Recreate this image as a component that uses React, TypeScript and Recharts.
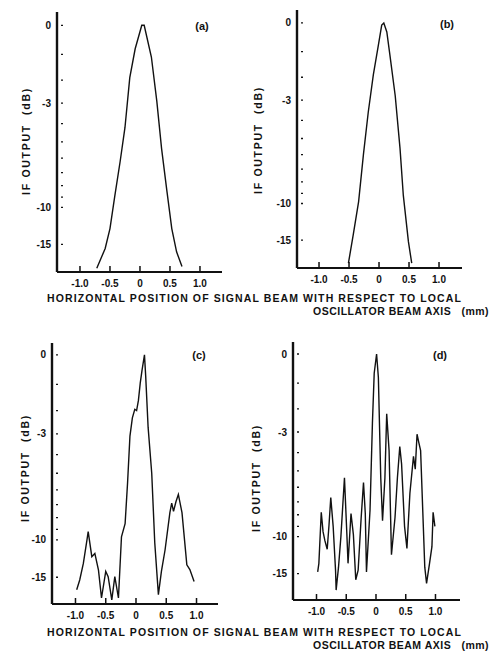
import React from 'react';
import { LineChart, Line, XAxis, YAxis, LabelList } from 'recharts';

// ---- tick definitions ----
const xTicks = [-1.0, -0.5, 0, 0.5, 1.0];
const xTickLabels = ['-1.0', '-0.5', '0', '0.5', '1.0'];
const yTickDb = [0, -1, -2, -3, -4, -5, -6, -7, -8, -9, -10, -15];
const yLabeledDb = [0, -3, -10, -15];

// ---- panel (a) ----
const aX = [-0.72, -0.58, -0.5, -0.42, -0.33, -0.25, -0.17, -0.08, 0.03, 0.07, 0.19, 0.28, 0.36, 0.45, 0.53, 0.61, 0.7];
const aDb = [-21.1, -15.8, -12.5, -8.9, -6.2, -4.2, -1.9, -0.8, 0, 0, -1.1, -2.9, -5.4, -8.5, -12.5, -16.5, -20.5];

// ---- panel (b) ----
const bX = [-0.51, -0.43, -0.34, -0.26, -0.18, -0.095, -0.01, 0.045, 0.08, 0.13, 0.18, 0.27, 0.35, 0.405, 0.49, 0.545];
const bDb = [-20.9, -14.1, -9.8, -6.0, -3.6, -1.9, -0.75, -0.07, 0, -0.3, -1.1, -2.8, -5.6, -9.2, -15.3, -20.9];

// ---- panel (c) ----
const cX = [-0.98, -0.93, -0.87, -0.81, -0.79, -0.73, -0.68, -0.62, -0.57, -0.5, -0.46, -0.4, -0.35, -0.29, -0.24, -0.18, -0.14, -0.1, -0.06, -0.02, 0.01, 0.04, 0.07, 0.1, 0.14, 0.16, 0.2, 0.26, 0.31, 0.37, 0.42, 0.48, 0.56, 0.59, 0.62, 0.66, 0.7, 0.76, 0.84, 0.89, 0.96];
const cDb = [-17.6, -15.5, -12.8, -10.0, -9.2, -11.9, -11.5, -13.8, -19.9, -14.0, -14.9, -20.5, -14.9, -19.9, -9.7, -8.5, -5.6, -3.1, -2.3, -1.95, -2.0, -1.6, -0.96, -0.5, 0, -0.7, -2.7, -5.0, -10.3, -18.9, -14.0, -11.1, -7.6, -6.9, -7.5, -6.8, -6.3, -7.6, -13.0, -13.7, -15.8];

// ---- panel (d) ----
const dX = [-0.98, -0.96, -0.92, -0.89, -0.86, -0.82, -0.79, -0.76, -0.72, -0.68, -0.67, -0.63, -0.59, -0.53, -0.49, -0.47, -0.42, -0.38, -0.34, -0.3, -0.25, -0.21, -0.18, -0.16, -0.1, -0.06, -0.03, 0.01, 0.04, 0.08, 0.11, 0.15, 0.18, 0.22, 0.26, 0.32, 0.36, 0.4, 0.43, 0.48, 0.52, 0.57, 0.63, 0.66, 0.69, 0.72, 0.75, 0.79, 0.82, 0.85, 0.9, 0.94, 0.96, 0.99];
const dDb = [-14.7, -13.3, -7.8, -9.5, -10.4, -11.4, -8.9, -6.7, -9.0, -14.4, -18.7, -13.9, -10.0, -5.4, -9.7, -13.3, -7.9, -9.8, -16.2, -14.4, -8.3, -5.7, -7.9, -14.7, -7.6, -2.6, -0.65, 0, -0.8, -5.4, -8.5, -5.4, -2.2, -3.9, -12.1, -8.2, -5.4, -3.7, -4.6, -9.0, -11.3, -6.4, -4.2, -4.9, -3.1, -3.5, -3.9, -8.2, -13.9, -17.0, -13.3, -11.1, -7.8, -9.0];

// ---- texts ----
const panelTags = ['(a)', '(b)', '(c)', '(d)'];
const yTitle = 'IF OUTPUT  (dB)';
const captionLine1 = 'HORIZONTAL POSITION OF SIGNAL BEAM WITH RESPECT TO LOCAL';
const captionLine2 = 'OSCILLATOR BEAM AXIS   (mm)';

// The vertical axis is linear in output amplitude, labelled in dB.
const toAmp = (db: number) => Math.pow(10, db / 20);
const yTickAmp = yTickDb.map(toAmp);

const FONT = '"Liberation Sans", Arial, sans-serif';
const INK = '#111111';

type Dom = [number, number];
type Layout = { left: number; top: number; w: number; h: number; xDomain: Dom; yDomain: Dom };

const layouts: Layout[] = [
  { left: 57, top: 12, w: 165, h: 260, xDomain: [-1.383, 1.367], yDomain: [0.074, 1.05] },
  { left: 297, top: 10, w: 165, h: 258, xDomain: [-1.367, 1.383], yDomain: [0.072, 1.049] },
  { left: 52, top: 343, w: 166, h: 261, xDomain: [-1.388, 1.355], yDomain: [0.079, 1.044] },
  { left: 293, top: 342, w: 167, h: 258, xDomain: [-1.395, 1.412], yDomain: [0.079, 1.045] },
];

// table for the library: curve rows, then the axis frame and x tick marks (in axis units)
const buildTable = (xs: number[], dbs: number[], L: Layout) => {
  const rows: any[] = xs.map((x, i) => ({ x, amp: toAmp(dbs[i]) }));
  const [x0, x1] = L.xDomain;
  const [y0, y1] = L.yDomain;
  const tickLen = (6 * (y1 - y0)) / L.h;
  rows.push({ x: x0, yAx: y0 }, { x: x0, yAx: y1 });
  rows.push({ x: x0, xAx: y0 }, { x: x1, xAx: y0 });
  xTicks.forEach((t, i) => {
    rows.push({ x: t, tk: y0, tl: xTickLabels[i] });
    rows.push({ x: t, tk: y0 + tickLen });
    rows.push({ x: t, tk: null });
  });
  return rows;
};

const tables = [
  buildTable(aX, aDb, layouts[0]),
  buildTable(bX, bDb, layouts[1]),
  buildTable(cX, cDb, layouts[2]),
  buildTable(dX, dDb, layouts[3]),
];

const YTick = (props: any) => {
  const { x, y, payload } = props;
  const db = Math.round(20 * Math.log10(payload.value));
  const show = yLabeledDb.includes(db);
  return (
    <g>
      <line x1={x + 4} x2={x + 6} y1={y} y2={y} stroke={INK} strokeWidth={1.3} />
      {show && (
        <text x={x - 6} y={y} textAnchor="end" dominantBaseline="central" fontSize={10} fontWeight="bold" fontFamily={FONT} fill={INK}>
          {String(db)}
        </text>
      )}
    </g>
  );
};

const XLabel = (props: any) => {
  const { value } = props;
  if (value === undefined || value === null || value === '') return null;
  const vb = props.viewBox || {};
  const px = typeof props.x === 'number' ? props.x : vb.x;
  const py = typeof props.y === 'number' ? props.y : vb.y;
  if (typeof px !== 'number' || typeof py !== 'number' || isNaN(px) || isNaN(py)) return null;
  return (
    <text x={px} y={py + 15} textAnchor="middle" fontSize={10} fontWeight="bold" fontFamily={FONT} fill={INK}>
      {String(value)}
    </text>
  );
};

const yTickEl = <YTick />;
const chartMargin = { top: 4, right: 4, bottom: 0, left: 0 };

const YW = 40;
const MT = 4;
const XH = 22;

const Panel = ({ L, data }: { L: Layout; data: any[] }) => (
  <div style={{ position: 'absolute', left: L.left - YW, top: L.top - MT }}>
    <LineChart width={L.w + YW + 4} height={L.h + MT + XH} data={data} margin={chartMargin}>
      <XAxis
        type="number"
        dataKey="x"
        domain={L.xDomain}
        ticks={xTicks}
        height={XH}
        tickSize={0}
        tickMargin={0}
        tickLine={false}
        axisLine={false}
        tick={false}
      />
      <YAxis
        type="number"
        domain={L.yDomain}
        ticks={yTickAmp}
        width={YW}
        tickSize={0}
        tickMargin={0}
        tickLine={false}
        interval={0}
        axisLine={false}
        tick={yTickEl}
      />
      <Line type="linear" dataKey="yAx" stroke={INK} strokeWidth={2.4} dot={false} isAnimationActive={false} />
      <Line type="linear" dataKey="xAx" stroke={INK} strokeWidth={1.8} dot={false} isAnimationActive={false} />
      <Line type="linear" dataKey="tk" stroke={INK} strokeWidth={1.5} dot={false} isAnimationActive={false}>
        <LabelList dataKey="tl" content={XLabel} />
      </Line>
      <Line type="linear" dataKey="amp" stroke={INK} strokeWidth={1.4} dot={false} isAnimationActive={false} />
    </LineChart>
  </div>
);

const baseText: React.CSSProperties = {
  position: 'absolute',
  fontFamily: FONT,
  fontWeight: 'bold',
  color: INK,
  whiteSpace: 'pre',
  lineHeight: '12px',
};

const Tag = ({ cx, cy, text }: { cx: number; cy: number; text: string }) => (
  <div style={{ ...baseText, left: cx, top: cy, fontSize: 11, transform: 'translate(-50%, -50%)' }}>{text}</div>
);

const YTitle = ({ cx, cy }: { cx: number; cy: number }) => (
  <div style={{ ...baseText, left: cx, top: cy, fontSize: 10.5, letterSpacing: 1.7, transform: 'translate(-50%, -50%) rotate(-90deg)' }}>{yTitle}</div>
);

const Caption = ({ top }: { top: number }) => (
  <>
    <div style={{ ...baseText, left: 47, top: top - 6, fontSize: 10.5, letterSpacing: 1.1 }}>{captionLine1}</div>
    <div style={{ ...baseText, left: 313, top: top + 7, fontSize: 10.5, letterSpacing: 0.5 }}>{captionLine2}</div>
  </>
);

export default function App() {
  return (
    <div style={{ position: 'absolute', left: 0, top: 0, width: 504, height: 653, background: '#fff' }}>
      {layouts.map((L, i) => (
        <Panel key={i} L={L} data={tables[i]} />
      ))}

      <Tag cx={202} cy={26} text={panelTags[0]} />
      <Tag cx={447} cy={24} text={panelTags[1]} />
      <Tag cx={199} cy={355} text={panelTags[2]} />
      <Tag cx={440} cy={355} text={panelTags[3]} />

      <YTitle cx={26} cy={141} />
      <YTitle cx={258} cy={140} />
      <YTitle cx={25} cy={468} />
      <YTitle cx={256} cy={478} />

      <Caption top={298} />
      <Caption top={632} />
    </div>
  );
}
